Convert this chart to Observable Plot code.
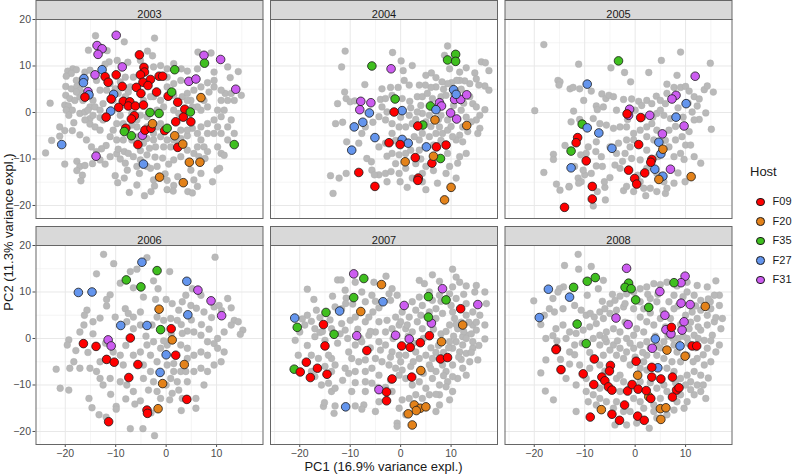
<!DOCTYPE html>
<html><head><meta charset="utf-8">
<script src="https://cdn.jsdelivr.net/npm/d3@7"></script>
<script src="https://cdn.jsdelivr.net/npm/@observablehq/plot@0.6"></script>
<style>
body{margin:0;background:#fff;font-family:"Liberation Sans",Arial,sans-serif;}
#wrap{position:relative;width:794px;height:475px;overflow:hidden;}
#wrap svg{position:absolute;left:0;top:0;}
.xt{position:absolute;left:35.5px;width:696px;top:459.5px;text-align:center;font-size:13px;line-height:14px;color:#1a1a1a;white-space:nowrap;}
.yt{position:absolute;left:9px;top:231.5px;transform:translate(-50%,-50%) rotate(-90deg);font-size:13px;line-height:14px;color:#1a1a1a;white-space:nowrap;}
.lg{position:absolute;left:750px;top:164px;font-size:13px;color:#1a1a1a;}
.li{position:absolute;left:756px;font-size:11px;color:#1a1a1a;height:12px;line-height:12px;}
.li i{display:inline-block;width:8.6px;height:8.6px;border-radius:50%;border:0.8px solid #1a1a1a;vertical-align:middle;margin-right:8px;box-sizing:border-box;}
</style></head><body><div id="wrap"></div>
<script>
const years = [2003, 2004, 2005, 2006, 2007, 2008];
const hosts = ["F09", "F20", "F35", "F27", "F31"];
const hostColors = ["#FF0000", "#E3821A", "#3FBF1F", "#6495ED", "#CC5CF0"];
const xTicks = [-20, -10, 0, 10];
const yTicks = [-20, -10, 0, 10, 20];
const xMinor = [-25, -15, -5, 5, 15];
const yMinor = [-15, -5, 5, 15];

const grey2003 = [[-14,16.5],[-2.3,16],[-8.3,15.2],[-15.4,13.4],[-3.7,13.2],[-2.7,12.2],[-11.7,13.3],[8.9,12.8],[6.3,13],[-7.6,10.8],[-11.3,10.9],[-9.7,11.2],[-12.1,10.4],[-5.1,11.2],[-1.1,10.1],[1.5,10.5],[3,9.4],[4.2,8.9],[6.2,9.4],[9.5,8.7],[12.2,9.8],[14.3,8.8],[12.7,7.5],[9.5,6.9],[8.2,6.4],[-18.5,9.4],[-17.8,9.2],[-19.5,8.9],[-18.8,8.4],[-16.1,8.7],[-15.1,9.1],[-19.8,7.8],[-17.8,6.9],[-19.9,5.6],[-18.8,5.1],[-17.7,5.6],[-17.1,4.8],[-19.9,3.7],[-19.1,3],[-18.1,2.6],[-17.1,3.4],[-20.1,1.6],[-19.4,1.4],[-18.6,0.5],[-19.8,0.5],[-19.3,-0.6],[-17.1,-0.2],[-16.1,0.1],[-15.1,-1.3],[-16.1,-1.6],[-14.5,-0.6],[-13.1,-1.1],[-12.5,-1.6],[-23,2],[-18.3,-2.2],[-21.1,-3.1],[-20.1,-3.9],[-18.6,-3.9],[-17.1,-4.8],[-15.1,-2.5],[-14.1,-3.1],[-13.1,-3.8],[-11.9,-7.1],[-12.8,-7.8],[-13.8,-8.4],[-23.9,-8.7],[-22.7,-6],[-21.1,-5.1],[-20.1,-11.1],[-17.7,-10.5],[-17.1,-11.6],[-17.7,-12.5],[-16.6,-13.5],[-16.9,-14.7],[-16.1,-11.4],[-14.6,-11],[-12.1,-11.1],[-9.8,-8.9],[-9.5,-7.9],[-8.3,-8.4],[-9.1,-10],[-8.1,-10.9],[-7.7,-12.4],[-8.3,-14.1],[-10.1,-13.6],[-9.6,-15.1],[-7.3,-17.2],[-5.8,-15.6],[-4.3,-17.9],[-3,-17],[-5.3,-13.1],[-3.1,-12],[-2.5,-14.5],[-2.3,-15.8],[-0.2,-13.2],[0.2,-14.6],[0.2,-16.6],[1.5,-15.7],[1.4,-16.9],[2.3,-13.8],[0.5,-11.1],[-0.7,-9.8],[-2.2,-9.6],[-3.8,-9.1],[-5.1,-8.2],[-5.1,-10.2],[-3.3,-7.7],[-2.1,-7.4],[-0.5,-7.4],[0.9,-7.4],[2.2,-6.2],[4.2,-5],[5.2,-3.4],[6.2,-4.5],[6.9,-5.9],[7.5,-7.4],[8.2,-8.4],[10.2,-7.4],[10.9,-8.8],[12.2,-5.9],[13.5,-4.5],[5.5,-8.8],[6.5,-9.5],[7.7,-9.9],[4.9,-12.4],[5.5,-14.5],[6.2,-15.9],[4.3,-17],[5.2,-17.3],[9.2,-14.9],[10.1,-12.4],[10.6,-12],[11.5,-9.2],[12.9,-1.6],[14.9,3.7],[13.5,2.6],[12.2,2.6],[11.7,4.1],[10.9,4.8],[9.5,5.5],[8.5,4.4],[7.5,2.6],[8.2,1.2],[6.9,0.5],[10.2,0.5],[11.5,0.5],[10.9,-0.9],[9.5,-1.6],[8.2,-2.4],[6.9,-3.1],[8.2,-4.5],[9.5,-4.5],[10.9,-4.5],[12.2,-3.1],[-7.5,4.4],[-8.1,3.4],[-2.5,3.4],[-1.1,2.6],[1.5,3.7],[3.2,3.4],[4.2,4.1],[5.5,4.8],[6.9,5.5],[4.9,2.6],[6.2,1.2],[-0.5,1.2],[-1.8,0.5],[1.5,0.5],[2.5,-0.2],[-5.1,-0.6],[-3.8,-0.9],[-9.1,-0.6],[-9.8,-2.4],[-10.5,-3.8],[-11.1,-5.2],[-9.8,-5.9],[-8.5,-5.9],[-6.8,-5.9],[-5.5,-5.2],[-3.8,-5.6],[-2.5,-4.5],[-1.1,-5.2],[0.2,-5.9],[1.5,-5.9],[2.9,-5.6],[2.9,-3.8],[4.2,-3.8],[-1.1,-2.4],[-1.8,-3.1],[-3.8,-3.1],[-5.8,-3.1],[-6.8,-2.7],[-8.5,-2.4],[-7.5,-8.8],[-6.5,-9.5],[-4.5,-6.6],[-2.5,-5.9],[-9.5,4.1],[-10.5,2.6],[-6.5,7.6],[-8.1,7.6],[-9.1,6.6],[-7.1,5.5],[0.2,5.5],[1.5,6.2],[2.9,6.9],[0.2,7.6],[-2.5,9.8],[0.2,9.4],[-13.8,6.9],[-13.1,4.8],[-14.5,2.6],[-12.5,1.9],[-15.1,1.2],[-17.8,4.4],[-16.5,2.6],[-15.5,0.5],[-14.1,1.2],[-13.1,0.5],[-11.8,4.8],[-11.1,6.2],[-10.1,5.1],[-6.8,-0.2],[-5.8,-1.6],[-4.5,2.6],[-3.1,3.4],[4.2,2.6],[5.2,1.2],[6.9,3.4],[10.9,2.6],[12.9,4.1],[10.2,-3.1],[6.2,-7.4],[4.2,-8.1],[2.9,-9.5],[1.5,-10.2],[-1.8,-11.6],[-3.8,-11.6],[-5.8,-11.6],[-11.1,-9.5],[-13.1,-10.2],[-14.8,-7.4],[-15.8,-5.9],[6.9,-13.1]];
const grey2004 = [[-11,13.2],[-11.7,9.8],[-1.6,12.9],[0.1,11.1],[2.3,10.1],[6.1,8.5],[9.3,14.3],[8.7,12.3],[9.7,9.4],[11.7,8.7],[13,9.6],[14.7,8.5],[16,10.9],[16.8,10.7],[17.5,9],[16.7,5.7],[17.5,4.8],[15.5,5.9],[15,7.2],[13.7,6.2],[12.7,6.8],[11.7,6.9],[11.1,6.9],[10.1,6.4],[9.3,6.2],[8.2,6.6],[7,5.5],[6,5.4],[4.9,5.9],[3.7,5.9],[1.7,5.9],[0.7,6.9],[-0.5,5.4],[-2,5.4],[-3.7,5.1],[-7.1,6],[-11.1,4.4],[-10.8,3],[-12.5,1.9],[-10,2.3],[-9.1,2.5],[-4,2.8],[-3,3],[-1.7,3.7],[0.3,3],[1.8,2.4],[3.3,3.4],[4.3,3.4],[5.3,4.1],[6.3,3],[8,3.4],[9,3.7],[13.7,3.4],[14.3,1.9],[15,1.2],[16.7,0.6],[15.7,-0.6],[15,-1.6],[15.7,-3.4],[15.3,-4.5],[13.3,-4.1],[12.3,-3.1],[11.7,-4.9],[11,-5.9],[12.3,-6.3],[13,-8.8],[11.7,-9.5],[11.3,-10.9],[9.3,-8.8],[9.7,-11.6],[9,-13.1],[7.3,-15.2],[11,-14.1],[5,-16.6],[4.3,-14.9],[2.3,-14.1],[1.3,-16.1],[-0.1,-14.9],[-0.3,-13.1],[1,-12],[4.3,-13.1],[5,-11.6],[-2.7,-14.9],[-3,-13.1],[-1.9,-12.7],[-4.3,-13.4],[-5.7,-12.4],[-6.7,-9.9],[-5.8,-10.6],[-2.7,-9.4],[-1.7,-8.8],[-0.3,-9.1],[1,-8.8],[2,-8.1],[3.7,-8.1],[3.7,-5.9],[2.7,-5.2],[4.3,-4.5],[5.7,-5.2],[7,-4.5],[8.3,-4.5],[9.3,-3.8],[10.3,-5.2],[7.7,-3.1],[9.3,-1.6],[8,-0.6],[5.7,-0.6],[4.3,-0.2],[3.3,0.1],[1.7,-0.6],[2.3,-2.4],[1,-3.1],[-0.3,-3.1],[-1.7,-2.4],[-3,-1.6],[-4.3,-0.9],[-2.7,0.1],[-3.7,1.2],[-5.5,-2.1],[-7.7,-4.5],[-8.3,-6.6],[-10.7,-6.3],[-12.9,-2.4],[-11.5,-2.1],[-7,-3.1],[-1.7,-4.5],[-4.3,-7.4],[-3,-6.6],[-13.9,-13.6],[-12.2,-14.1],[-10.8,-13.1],[-13.4,-17.4],[-5.2,-13.4],[10.5,1.5],[12,0.5],[11,-1.5],[13,-1],[14,-2],[12.5,2],[6.5,1],[7.5,-1.5],[6,-3],[5,-2],[3,-1.5],[4,1.5],[2,1],[0,-1],[-1,-6],[1,-6.5],[6.5,-7],[8,-6],[10,-3],[12,5],[10.5,4],[8.5,5],[7,7.5],[5,8],[4,-10],[8,-10],[6.5,-12.5],[3,-11],[-1,-11],[0.5,9]];
const grey2005 = [[-18.1,14.6],[9,13],[5.2,11.2],[14.9,10.6],[-11.2,10.4],[-4.8,9.6],[-2.1,8.6],[2.7,8.6],[-0.9,6.6],[8.3,8],[-15.3,6.9],[-14.9,6.6],[-15.1,5.9],[-12.9,5.1],[-12.3,5.4],[-11,5.1],[-8.7,4.6],[-10.2,2.6],[-6.6,4],[-5.8,3],[-5.2,3.7],[-4.3,3.4],[-7.7,1.4],[-7.5,0.6],[-6.3,1.2],[-3.7,0.5],[-2.3,2.8],[-0.7,2.9],[0.7,2.4],[1.3,1.5],[2.3,2.6],[3.3,1.9],[4.2,3.5],[5,2.6],[6,1.9],[6.3,4.1],[6.3,6.1],[7.7,5.4],[9,5.4],[10,5.6],[10.7,4.6],[11.7,3.4],[12.7,2.9],[12.3,1.4],[13.7,4.9],[14.3,5.7],[15.5,4.4],[11.3,0.1],[12.7,-1.5],[14,-0.1],[15.1,-3.6],[11.7,-1.6],[10.7,-4.1],[9.3,-5.2],[10,-7],[9,-8.8],[11.7,-9.5],[13,-10.9],[9.7,-10.1],[7.7,-9.5],[6.7,-7.4],[8,-5.9],[6.7,-3.8],[7,-1.3],[5.7,-0.6],[4.3,-0.2],[3.3,-2.4],[2.3,-3.1],[1,-3.8],[-0.3,-4.5],[-1.7,-3.1],[-3,-3.1],[-4.3,-3.4],[-5.7,-2.7],[-7,-2.4],[-8.3,-1.3],[-11,-1.5],[-12.7,-2],[-12.2,0.3],[-19.9,0.4],[-13.9,-7.1],[-16.2,-9],[-16.2,-10.1],[-18.1,-12.9],[-15.6,-15.4],[-14.9,-16.7],[-13.1,-16],[-11.3,-14.1],[-10.7,-14.9],[-11.2,-15.2],[-10,-13.4],[-8.7,-13.1],[-7.5,-17],[-6,-16.1],[-5.9,-18.8],[-8.3,-20.1],[-6.1,-14.9],[-7.7,-11.5],[-6.5,-11.6],[-4,-11.3],[-3,-12],[-2.3,-16.8],[-1.7,-15.9],[-0.3,-17],[1,-14.9],[1.7,-16.3],[2.1,-17.9],[3,-16.3],[4.3,-17],[6,-17.4],[6.3,-16.3],[7.7,-15.2],[9.9,-14.9],[5.7,-14.9],[4.3,-13.1],[2.3,-12],[1,-10.2],[-0.7,-9.9],[-2,-8.8],[-3.7,-8.8],[-5,-7.4],[-3.3,-6.6],[-1,-7.4],[2.3,-8.1],[3.7,-5.9],[-0.3,-5.9],[-1.7,-5.9],[2.3,-5.2],[4.3,-3.8],[-7.8,-8.4],[-6.7,-9.5],[-9.7,-8.8],[-10.8,-9.1],[-10.3,-12.4],[-13.1,-15.9],[-12,-11.6],[-7.7,-6.3],[-9.3,-7.4],[8.5,1],[9.5,-1],[8,-3],[10.5,2],[7.5,3],[5,0.5],[3.5,-1],[1.5,-1],[0,0.5],[-1.5,-1.5],[6,-6],[4.5,-9.5],[8.5,-13],[11,-7],[-5,-14],[-2.5,-10.5],[0.5,-13.5]];
const grey2006 = [[-12.4,18.1],[9.7,17.5],[-10.4,16.1],[-3.8,17.4],[-13.8,13.9],[0.7,14.4],[-9.1,11.9],[-7.1,14.4],[-5.8,14.9],[-2.5,12.4],[-1.6,10.7],[-6.5,10.9],[-4.5,8.9],[-11.1,9.4],[-11.8,8.4],[-11.8,7],[-8.1,6.4],[-7.5,5.4],[-6.5,4.6],[-5.1,5.7],[-2.1,8.4],[0,8.4],[1.2,7.5],[2.5,6.1],[3.2,7.9],[3.9,9.3],[5.2,10.7],[6.9,9.3],[4.9,7.1],[7.5,5.7],[9.5,6.8],[10.5,7.1],[12.2,8.6],[12.9,6.6],[13.5,3.9],[14.3,3.6],[15.2,1.8],[14.7,0.9],[12.9,2.9],[11.5,1.4],[10.2,0],[9.5,-1.1],[8.2,-0.7],[6.9,0.7],[5.5,1.4],[4.2,1.6],[3.2,1.1],[2.2,3.9],[0.9,4.3],[-0.5,3.9],[-1.8,4.6],[-2.8,2.9],[-5.1,2.9],[-6.5,2.1],[-7.8,3.6],[-10.1,4.6],[-13.1,4.4],[-14.5,3.6],[-15.7,6.1],[-16.2,5],[-16.3,2.9],[-17.1,1.4],[-19.3,-0.3],[-19.6,-1.4],[-17.9,-2.6],[-18.3,-5],[-19.1,-6.4],[-17.1,-6.4],[-21.8,-6.6],[-21,-10.7],[-19.3,-11.1],[-15.3,-12.9],[-14.7,-14.9],[-13.3,-16.4],[-11.9,-16.9],[-9.9,-14.6],[-9.9,-15.2],[-7.1,-19.4],[-4.6,-19.4],[-2.3,-20.9],[-6.2,-14.1],[-5.1,-13.4],[-1.1,-12.9],[0.7,-13.2],[5.9,-12.9],[5.9,-15],[2.5,-11.1],[3.2,-12.9],[1.2,-11.8],[-1.8,-11.4],[-3.5,-11.1],[-6.5,-11.4],[-7.8,-10],[-9.1,-9.3],[-11.1,-8.6],[-12.5,-10],[-13.1,-8.6],[-13.8,-7.1],[-15.1,-6.4],[-13.1,-5],[-10.5,-2.9],[-9.1,-3.6],[-8.5,-5.7],[-6.5,-3.6],[-5.1,-2.9],[-3.8,-1.4],[-2.5,-0.7],[-3.1,-3.6],[-4.5,-5.7],[-3.1,-7.1],[-4.5,-8.6],[-2.5,-9.3],[0.9,-8.6],[2.2,-9.3],[1.5,-7.1],[2.9,-7.1],[3.9,-7.1],[4.2,-9.3],[5.5,-7.1],[6.9,-6.4],[8.2,-7.1],[9.5,-5.7],[10.9,-5],[11.5,-2.9],[10.2,-2.1],[8.2,-3.6],[6.9,-2.9],[5.5,-3.6],[4.2,-2.1],[2.9,-1.4],[0.2,-1.4],[-1.1,-2.1],[-1.8,-5],[0.2,-5.7],[1.5,-5.4],[4.2,-4.3],[1,1],[-0.5,-0.5],[3,3],[5,4],[7,3],[8.5,2],[9,4.5],[11,6],[6,6.5],[-4,0.5],[-8,-1.5],[-12,-1],[-14.5,1],[-15.5,-3],[-11,-12],[-8,-13],[-3,-16],[0,-10],[3,-15.5],[7.5,-10]];
const grey2007 = [[-12.5,12.6],[-11.8,12.6],[-9,12.1],[-5.3,12.1],[-2.9,13.4],[-18.5,10.6],[-17.2,8.4],[-13.5,9.1],[-10.8,8.7],[-10.9,7.5],[-11.7,6.4],[-13,6.8],[-16.7,6.1],[-18.5,5],[-19.5,4.2],[-19,2.9],[-20,1.4],[-20.9,-0.4],[-17.7,3.7],[-17,2.1],[-16,1.3],[-17,0.4],[-15,-0.4],[-13.7,2.1],[-11.7,3.2],[-11,1.8],[-10,3.9],[-9,4.6],[-7,3.6],[-6.3,4.6],[-5.5,5.7],[-4.3,6.6],[-2.3,9.6],[-1.7,10.7],[-0.7,9.3],[-2,8.2],[-5.7,9.3],[-5,8],[-7,7.9],[-7.7,10],[-11,10.4],[-9.5,7.4],[3.7,12.5],[4.7,11.8],[6.3,13.7],[5.7,10],[7.7,12.3],[10.3,14.9],[11,13.2],[11.7,12.1],[13,11.3],[15,11.4],[16.7,10],[10.3,11.1],[9.7,9.6],[7.7,9.3],[6.3,8.2],[4.3,7.1],[3,6.1],[2.3,7.9],[1.7,4.6],[3.3,3.6],[4.3,2.1],[7,4.3],[8.3,5.4],[10.3,5.7],[10.7,4.3],[9.7,2.9],[11.3,2.1],[13,5],[14.3,5.7],[15.7,5],[17,7.5],[16.7,2.9],[14.3,2.9],[15,1.8],[16.7,-0.1],[13,0.7],[12.3,0.4],[11,-0.7],[9.7,-0.7],[10.3,-2.1],[11.7,-2.9],[13,-3.2],[14.3,-2.1],[15.3,-4.6],[13.7,-5],[12.3,-6.4],[13,-7.9],[11.3,-8.6],[9.3,-9.3],[9,-10.4],[10.3,-11.4],[7.7,-10],[6.3,-8.6],[7,-7.1],[5.7,-5.7],[6.3,-4.3],[5,-3.6],[3.7,-4.3],[3,-2.9],[1,-3.6],[-0.3,-3.6],[-1.7,-2.9],[-3,-1.4],[-4.3,-0.7],[-3,1.4],[-1.7,2.1],[-0.3,2.9],[1,2.1],[2.3,1.4],[0.3,5.7],[-1,4.6],[-2.7,3.9],[-4.3,3.6],[-5,1.4],[-6.3,0.7],[-7.7,-0.7],[-9,-1.4],[-10.3,-2.9],[-9.7,-4.3],[-8.3,-5],[-7,-4.6],[-5,-4.3],[-3.7,-5],[-2.3,-5.7],[-1,-6.4],[0.3,-6.8],[-0.3,-7.9],[1,-8.6],[2.3,-10],[3.7,-9.3],[5,-10.7],[5.7,-12.1],[4.3,-12.9],[3,-12.1],[1.7,-12.9],[0.3,-13.2],[-0.3,-15],[-0.7,-18.2],[-0.7,-18.9],[1,-16.4],[-1.7,-11.4],[-5.7,-9.6],[-7,-11.4],[-7.3,-14.3],[-7.7,-15.2],[-9,-14.5],[-13,-14.5],[-13.2,-16.1],[-15.3,-14.6],[-15.1,-13.8],[-13.7,-11.4],[-13,-10.7],[-14.3,-9.6],[-15.7,-10],[-17,-8.2],[-17.7,-7.1],[-13.7,-7.1],[-13,-5.7],[-13.7,-4.3],[-14.3,-3.6],[-16.3,-4.3],[-17.7,-3.6],[-20.3,-3.6],[-11,-6.4],[-10.3,-7.5],[-9,-7.1],[-7,-7.1],[-5.7,-6.4],[-4.3,-7.9],[-7,-9.3],[-4.3,-13.6],[-9.7,-11.4],[-5,-15.7],[9,-7.1],[10.3,-5.7],[8.3,-5.7],[10.3,-8.2],[7.7,-12.1],[9.7,-13.2],[7.7,-14.3],[7,-15.7],[9,-4.3],[12.3,-1.4],[13,0],[14.3,-0.7],[14.7,10],[13,7.5],[11,8.6],[10,7.1],[7,6.4],[5.7,5.7],[4,5],[3.7,8.9],[0,3.6],[1.3,2.9],[8,1],[6.5,2],[7.5,-1.5],[9,1.5],[12,3.5],[14,1],[10.5,0.5],[8.5,-3],[4.5,0],[2.5,-1],[1.5,0.5],[-1.5,0],[-6,-2],[-8.5,2],[-12.5,-1],[-15.5,1.5],[-18.5,-1.5],[-2,-9],[-3,-10.5],[2,-6],[4,-7],[7,-12],[6,-2],[12,-4.5],[15,3.5],[8,8],[12.5,9.5],[11,3],[12.5,1.5],[13.5,3.5],[15.5,-1.5],[14,-3],[11.5,-4],[9.5,-2],[7,-3],[6,-6.5],[8.5,-8],[4.5,-7.5],[2.5,-5],[0,-5],[-2,-4],[-4,-2.5],[-6,1.5],[-8,0],[-10.5,0],[-12,1],[-14,4],[-16,4.5],[-15,-6],[-11.5,-9],[-9,-9.5],[-4.5,-10.5]];
const grey2008 = [[-11.3,18.1],[-11.2,14.9],[-14,15.7],[-8.7,15.5],[-6.3,12.5],[-7.3,10.7],[-9.5,9.3],[-14.2,11.1],[-15,10.7],[-15.3,10],[-16.3,8.6],[-20.1,8.1],[-18,5],[-18.7,3],[-17,6.4],[-16,5.7],[-14.3,6.4],[-12,7.1],[-10.7,6.1],[-9.7,5],[-8.9,5.4],[-8.1,4.6],[-7,5.7],[-6,6.4],[-5,7.5],[-4,8.2],[-3,9.1],[-1.7,9.6],[-0.3,10],[1,10.7],[2.3,11.1],[3.7,11.8],[5,11.6],[6.3,12.1],[8.3,11.3],[10.3,12.1],[12.3,11.4],[14.3,11.1],[16,12.4],[16.7,9.3],[15.7,9.3],[14.9,7.9],[13,8.2],[11.7,9.3],[10.3,10],[7.7,9.3],[6.7,7.9],[4.3,7.9],[3,8.6],[1,7.9],[1.7,6.4],[-0.3,6.4],[-2.3,6.8],[-3.7,6.1],[-5,5.4],[-6.3,4.3],[-7.7,3.2],[-9,2.5],[-10.3,1.8],[-11.7,1.1],[-13,1.4],[-14.3,2.9],[-15.7,2.1],[-16.3,0.6],[-17.7,0],[-13.7,0],[-12,-1.4],[-13,-2.9],[-14.8,-4.5],[-17.7,-4.6],[-18.7,-7.4],[-17.8,-11.3],[-16.2,-13.2],[-13.7,-8.6],[-11.7,-10],[-9.7,-11.4],[-11.7,-15.7],[-9.3,-13.6],[-7.7,-14.3],[-7,-12.9],[-5.7,-13.6],[-4.3,-15],[-3.7,-13.6],[-2.3,-15.7],[-1,-15.7],[-4,-18.6],[-1.7,-18.6],[0.3,-18.2],[2.8,-19.3],[4.3,-17.1],[3.7,-15.7],[6.3,-16.4],[7.7,-15.4],[9.7,-15],[8.3,-13.6],[10.3,-13.6],[11.7,-12.1],[13,-11.4],[14,-12.9],[12.3,-10],[11,-9.3],[10,-10],[10.3,-7.9],[11.7,-7.1],[13,-7.9],[13.7,-5.7],[15,-5],[16,-2.9],[16.7,-1.4],[14.3,-2.1],[13.7,-0.4],[15.3,0.7],[17,2.1],[17.3,4.3],[15.7,3.6],[14.3,2.9],[13,1.8],[11.7,0.7],[10.7,2.1],[10.3,0],[12.3,4.3],[13,6.1],[14.3,5],[11.3,5.7],[7.7,6.4],[7,4.3],[5,4.3],[3.7,2.9],[2.3,3.6],[1,4.6],[0.3,2.1],[1.7,1.4],[-0.3,0.7],[-1.7,0],[-3,1.4],[-4.3,2.1],[-5.7,1.4],[-7,0.7],[-8.3,0],[-7,-1.4],[-5.7,-0.7],[-4.3,-1.4],[-3,-2.1],[-1.7,-2.9],[-0.3,-2.1],[1,-1.4],[2.3,-0.7],[4.3,-1.4],[5.7,-0.7],[7.7,-1.4],[8.3,-2.9],[10.3,-3.6],[12.3,-4.3],[9,-5],[7.3,-5],[5.7,-4.3],[4.3,-3.6],[2.3,-3.6],[1.7,-5],[2.3,-6.8],[1,-6.4],[-1,-5.7],[-2.3,-4.3],[-3.7,-3.6],[-6.3,-3.6],[-7,-5.7],[-9,-6.4],[-9.7,-8.6],[-11,-5.7],[-3.7,-8.6],[-2.3,-9.3],[-3,-7.9],[1,-9.3],[5.7,-10],[6.3,-11.4],[5,-12.9],[4.3,-10.7],[9,-8.6],[7.7,-7.1],[6.3,-6.4],[9,-12.1],[-0.3,-12.9],[1,-13.6],[1.7,-15],[3.7,-14.3],[-3,-11.4],[-7,-10.7],[-8.3,-12.1],[16.7,7.1],[15,6.4],[9,3],[11,3.5],[12.5,2.5],[8.5,0],[6.5,0.5],[4,0.5],[3,5.5],[5.5,6],[8.5,7],[10,5],[12,-2],[10.5,-1],[14.5,-8.5],[8,-9.5],[3,-9.5],[-1,-10.5],[-6,-7],[-12,-3.5],[-5,-2.5],[-2,3.5],[0,-4],[6,2.5],[4.5,9.5],[9.5,9],[11.5,-5],[13.5,-3.5],[15,-0.5],[12.5,0],[9.5,0.5],[7.5,0],[5,-2],[3,-2],[1.5,-3],[-1,-1],[-3.5,-0.5],[-6,0],[-9,-3],[-10.5,-1],[-13,-5.5],[-15.5,-0.5],[-4.5,9.5],[-6.5,8],[-2,7.5],[2.5,9.5],[12,7],[14.5,8.5],[16,4.5],[11,-11],[13.5,-10]];

const hosts2003 = [["F31",-9.9,16.6],["F31",-13.7,14.4],["F31",-12.7,13.7],["F31",-13.5,12.5],["F31",7.5,12.3],["F31",10.8,11.4],["F31",-8.7,9.8],["F31",-14.1,8.1],["F31",4.5,6.7],["F31",5.9,7.2],["F31",13.8,5],["F31",-15.5,4.5],["F31",-4.7,-4.9],["F31",-13.9,-9.4],
["F27",-12.7,9.2],["F27",-16.3,7.3],["F27",-16.4,6.4],["F27",-15.3,3.8],["F27",-10.4,3.9],["F27",-11,0.3],["F27",-20.7,-6.9],["F27",-4.5,-11.1],
["F09",-5.3,12.4],["F09",-4.4,9.7],["F09",-4.3,8.7],["F09",-9.9,8.1],["F09",-12.1,7.7],["F09",-11.5,6.5],["F09",-5.1,8.1],["F09",-1.4,7.8],["F09",-0.7,7.8],["F09",-3.1,7.1],["F09",-4.6,6.5],["F09",-3.6,5.8],["F09",-8.7,5.6],["F09",-5.9,5.4],["F09",-1.9,4.4],["F09",-5,4.1],["F09",-16.1,3.3],["F09",-10.9,2.9],["F09",0.4,3.5],["F09",2.3,2.2],["F09",-8.5,2.4],["F09",-9.4,1.1],["F09",-7.2,2.3],["F09",-7.5,1.4],["F09",-6.1,1.4],["F09",-4.5,1.6],["F09",3.7,0.7],["F09",-11.9,-1],["F09",-6.3,-0.7],["F09",-6.9,-1.4],["F09",3.4,-1],["F09",4.9,-2],["F09",1.9,-2],["F09",-8,-3.4],["F09",-4.2,-3.8],["F09",-3,-3.4],["F09",-0.3,-3.9],["F09",-5.6,-6.9],["F09",2.3,-7.5],
["F35",7.6,10.6],["F35",1.7,9.2],["F35",1.1,4.4],["F35",-3.2,0],["F35",-1.4,-0.2],["F35",4.8,0.1],["F35",0.2,-3.4],["F35",-8.3,-4.1],["F35",-6.9,-5],["F35",13.5,-6.9],
["F20",6.9,3.2],["F20",-2.7,-2.4],["F20",1.7,-5],["F20",3.3,-6.8],["F20",4.6,-10.7],["F20",6.7,-10.7],["F20",-1.3,-13.9],["F20",3.4,-15.1]];
const hosts2004 = [["F35",10.9,12.5],["F35",9.3,11.3],["F35",10.9,11],["F35",-5.7,10],["F35",-1.1,2.9],["F35",5.9,1.4],["F35",4.4,-2.7],["F35",7.9,-9.9],
["F31",-1.9,9.4],["F31",-7.9,2.4],["F31",-5.9,2.1],["F31",-8.1,0.6],["F31",7.7,2.1],["F31",8.1,1.4],["F31",10.7,2.8],["F31",11.9,2.8],["F31",13.1,3.8],["F31",9.9,-0.1],["F31",11.1,-1.4],
["F27",10.5,4.9],["F27",11,3.9],["F27",-6.2,-0.1],["F27",0.3,0.4],["F27",-7.5,-2.1],["F27",-9.2,-3.1],["F27",-5.1,-5.4],["F27",0.3,-5.8],["F27",1.5,-6.6],["F27",5.1,-7.4],["F27",-9.7,-8.1],["F27",7,0.6],
["F09",-1.3,0.1],["F09",3.4,-2.9],["F09",-2.3,-6.5],["F09",-0.1,-6.9],["F09",7.1,-7.4],["F09",9,-7],["F09",2.9,-9.7],["F09",6.2,-10.9],["F09",-8.3,-12.9],["F09",3.5,-14.1],["F09",3.4,-14.6],["F09",-5.1,-15.9],
["F20",6.8,-1.6],["F20",13.1,-2.8],["F20",6.5,-9.4],["F20",0.9,-10.6],["F20",10,-16.1],["F20",8.7,-18.8]];
const hosts2005 = [["F35",-3.3,11.1],["F35",-10.5,-2.5],["F35",-12.7,-8.3],
["F27",-9.5,6.1],["F27",10.1,1.9],["F27",8.1,-1],["F27",-9.5,-3.3],["F27",-7.2,-4.4],["F27",-4.6,-7.7],["F27",4.7,-6.4],["F27",5.1,-8.9],["F27",3.9,-12.2],["F27",5.5,-13.7],["F27",-12.7,-11.9],
["F31",11.9,7.8],["F31",8.1,3.7],["F31",7.3,2.9],["F31",-1.1,0.7],["F31",-1.3,-0.6],["F31",2.9,-0.6],["F31",9.7,-2.9],["F31",5.4,-4.6],["F31",7,-12.2],
["F09",-1.6,-0.3],["F09",1.1,-1.1],["F09",-11.4,-5.4],["F09",-11.7,-6.5],["F09",0.7,-6.9],["F09",-9.7,-10.4],["F09",3.3,-10.1],["F09",3.1,-10.7],["F09",-1.3,-12.4],["F09",1.9,-13],["F09",-0.1,-14.2],["F09",0.3,-15.4],["F09",-8.5,-15.9],["F09",-8.5,-18.6],["F09",-14,-20.4],
["F20",5.5,-7.9],["F20",4.7,-14.4],["F20",11.1,-13.8]];
const hosts2006 = [["F27",-4.8,16.4],["F27",-17.4,9.9],["F27",-14.7,10],["F27",4.1,12.3],["F27",-9,2.8],["F27",-3.8,2.8],["F27",4.3,5.1],["F27",0,-3.5],["F27",-1.2,-7.3],
["F35",-1.8,14.6],["F35",-7.9,12.6],["F35",-5,11.1],["F35",-1.1,1.9],
["F31",6.3,10.4],["F31",8.9,8.1],["F31",11,4.9],["F31",-11.5,-0.3],["F31",-10.9,-1.6],
["F20",-1.4,6.3],["F20",1.2,-0.3],["F20",3.6,-5.6],["F20",-0.7,-9.7],["F20",-1.6,-15.1],
["F09",1,2.1],["F09",-16.4,-1.1],["F09",-13.9,-1.7],["F09",-7.1,0.1],["F09",-11.8,-4.5],["F09",-10.3,-5.1],["F09",-5.6,-5.6],["F09",1.9,-3.6],["F09",-7.4,-8.4],["F09",4.1,-13.1],["F09",-3.8,-15.4],["F09",-3.7,-16.1],["F09",-11.4,-17.9]];
const hosts2007 = [["F31",-9.3,13.9],["F31",8.3,10.7],["F31",0.7,7.1],["F31",15.3,7.3],["F31",6.1,3.3],["F31",-8.7,0.6],["F31",-1,0.7],["F31",1.7,-0.1],["F31",-4.3,-11],
["F35",-7.3,12.9],["F35",-9.3,8.8],["F35",5.5,9],["F35",9,8.3],["F35",-14.8,5.6],["F35",5.5,4.6],["F35",-20.5,2.4],["F35",-13.2,0.9],["F35",-21.1,-6.6],
["F27",-3.5,7.9],["F27",-12.1,5.9],["F27",-21,4.4],["F27",-10.9,-14.7],
["F20",-3.8,11.6],["F20",-7.9,5.8],["F20",12.3,2.9],["F20",8.1,-0.7],["F20",4,-6.9],["F20",2.7,-14.3],["F20",3.9,-15],["F20",3.1,-15.5],["F20",5,-14.7],["F20",1.5,-16.2],["F20",2.3,-18.6],
["F09",11.9,6.4],["F09",-15.3,3],["F09",5.7,0.6],["F09",0.2,-1.6],["F09",1.9,-1.9],["F09",3.9,-0.9],["F09",-15,-1.6],["F09",-6.7,-2.6],["F09",7.9,-4.4],["F09",9.3,-4.1],["F09",-18.7,-5.1],["F09",-19.9,-7.2],["F09",-16.5,-6.4],["F09",-17.9,-8.4],["F09",-14.6,-7.7],["F09",-1.7,-8.7],["F09",2.2,-8.3],["F09",-2.8,-11.5],["F09",-2.8,-13.4]];
const hosts2008 = [["F31",-1.7,15.1],["F31",9.9,13.4],["F31",9.1,12],["F31",4.9,10.1],["F31",9.1,7.6],["F31",10.9,7.3],["F31",-3.8,4.4],["F31",-1.4,3],["F31",5.9,5],["F31",9.7,3.6],["F31",6.1,1.9],["F31",7.1,1],["F31",9.3,1.8],["F31",3.4,-2.1],
["F35",7.7,12],["F35",-7.9,13.1],["F35",-9.5,12.3],["F35",-12.2,11],["F35",-1.3,11.9],["F35",-2,11],["F35",-0.8,10.7],["F35",0.1,8.3],["F35",2.7,6.7],["F35",-11.5,3.1],["F35",-9.7,-1.1],
["F27",-17.2,10.6],["F27",-13,8.9],["F27",-19,4.5],["F27",4,-0.1],["F27",8.9,-1.6],["F27",4.5,-6.3],
["F20",13.9,6.9],["F20",6.3,-2.5],["F20",9.9,-3.8],["F20",0.5,-7.9],["F20",2.7,-12.5],["F20",-6.7,-15.3],["F20",5,-15.1],["F20",6.1,-14.9],["F20",5.1,-17.4],
["F09",7.2,2.4],["F09",11.3,-1.6],["F09",12.2,-1.6],["F09",-15.6,-2.2],["F09",-15.7,-2.4],["F09",-14.7,-6.7],["F09",-8.1,-4.4],["F09",-4.9,-5.8],["F09",-5.1,-7],["F09",0.2,-4.9],["F09",-10.3,-7.6],["F09",-6.6,-8.3],["F09",-6,-9.1],["F09",-8.2,-9.9],["F09",-5.3,-10.4],["F09",-4.6,-11.1],["F09",-1.5,-11.3],["F09",-0.6,-9.9],["F09",0.6,-10.9],["F09",2.2,-11.2],["F09",3.1,-12.9],["F09",3.3,-8.3],["F09",5.1,-8.7],["F09",7.4,-8.3],["F09",3.3,-6.2],["F09",8.2,-11.1],["F09",8.7,-10.6],["F09",7.4,-12.6],["F09",-2.1,-14.3],["F09",-4.6,-16.3],["F09",-8.9,-16.9],["F09",-3.1,-17.6],["F09",0.5,-16.7],["F09",1.8,-17.6]];

const greyByYear = [grey2003, grey2004, grey2005, grey2006, grey2007, grey2008];
const hostByYear = [hosts2003, hosts2004, hosts2005, hosts2006, hosts2007, hosts2008];

const points = [];
years.forEach((year, i) => {
  const col = i % 3, row = Math.floor(i / 3);
  for (const [x, y] of greyByYear[i]) points.push({year, col, row, x, y, host: null});
  for (const [host, x, y] of hostByYear[i]) points.push({year, col, row, x, y, host});
});

const facetH = 199;
const chart = Plot.plot({
  width: 794, height: 475,
  marginLeft: 35.5, marginRight: 62.5, marginTop: 19, marginBottom: 31,
  style: {fontFamily: "'Liberation Sans', Arial, sans-serif", fontSize: "10.5px", color: "#4D4D4D", background: "transparent", overflow: "visible"},
  facet: {data: points, x: "col", y: "row"},
  fx: {domain: [0, 1, 2], paddingInner: 0.032, paddingOuter: 0, axis: null, round: false},
  fy: {domain: [0, 1], paddingInner: 0.1195, paddingOuter: 0, axis: null, round: false},
  x: {domain: [-25.8, 19.2], ticks: xTicks, tickSize: 3, tickPadding: 2, label: null},
  y: {domain: [-22.8, 20], ticks: yTicks, tickSize: 3, tickPadding: 2, label: null},
  color: {domain: hosts, range: hostColors},
  marks: [
    Plot.ruleX(xMinor, {stroke: "#EFEFEF", strokeWidth: 0.6}),
    Plot.ruleY(yMinor, {stroke: "#EFEFEF", strokeWidth: 0.6}),
    Plot.ruleX(xTicks, {stroke: "#E8E8E8", strokeWidth: 1}),
    Plot.ruleY(yTicks, {stroke: "#E8E8E8", strokeWidth: 1}),
    Plot.dot(points, {filter: d => d.host === null, x: "x", y: "y", r: 3.4, fill: "#B9B9B9", stroke: "#AFAFAF", strokeWidth: 0.4}),
    Plot.dot(points, {filter: d => d.host !== null, x: "x", y: "y", r: 4.3, fill: "host", stroke: "#1a1a1a", strokeWidth: 0.8}),
    Plot.frame({stroke: "#666", strokeWidth: 1}),
    Plot.frame({fill: "#D9D9D9", stroke: "#666", strokeWidth: 1, insetTop: -19, insetBottom: facetH}),
    Plot.text(points, Plot.selectFirst({text: d => String(d.year), frameAnchor: "top", dy: -9.5, fill: "#1A1A1A", fontSize: 11}))
  ]
});

const wrap = document.getElementById("wrap");
wrap.appendChild(chart);

const xt = document.createElement("div"); xt.className = "xt"; xt.textContent = "PC1 (16.9% variance expl.)"; wrap.appendChild(xt);
const yt = document.createElement("div"); yt.className = "yt"; yt.textContent = "PC2 (11.3% variance expl.)"; wrap.appendChild(yt);
const lg = document.createElement("div"); lg.className = "lg"; lg.textContent = "Host"; wrap.appendChild(lg);
hosts.forEach((h, i) => {
  const li = document.createElement("div"); li.className = "li";
  li.style.top = (195 + i * 19.5) + "px";
  const sw = document.createElement("i"); sw.style.background = hostColors[i];
  li.appendChild(sw); li.appendChild(document.createTextNode(h));
  wrap.appendChild(li);
});
</script></body></html>
